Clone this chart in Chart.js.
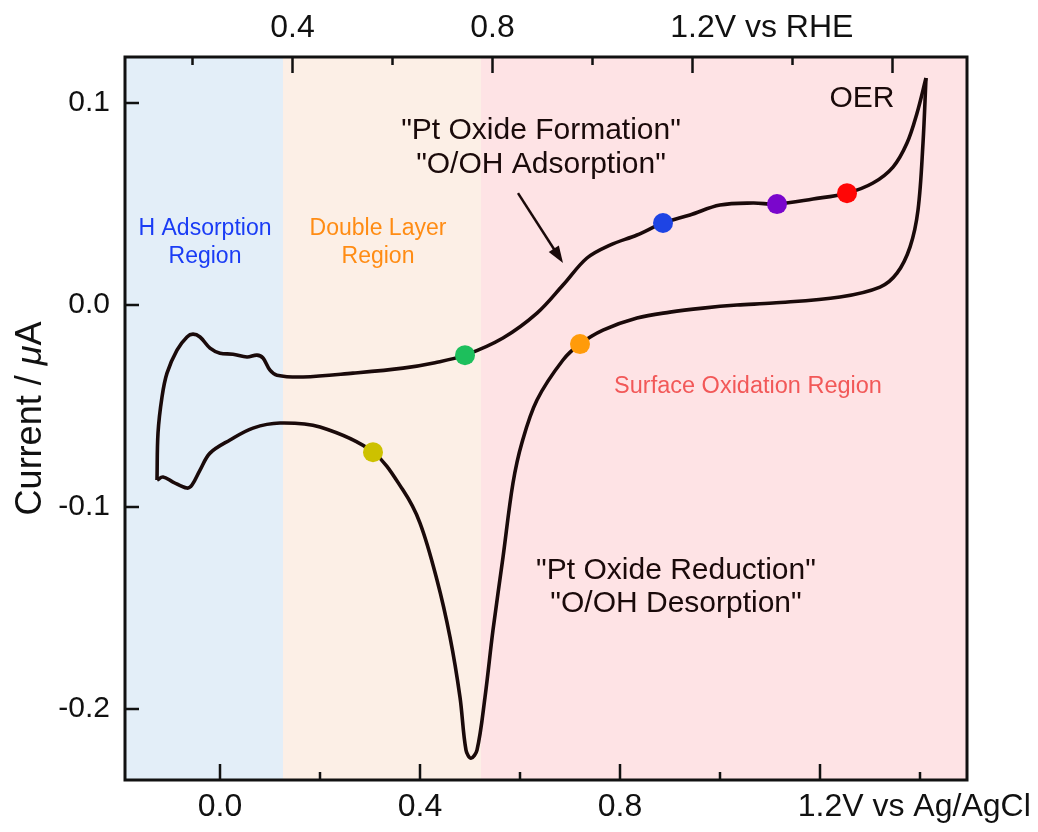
<!DOCTYPE html>
<html>
<head>
<meta charset="utf-8">
<script src="https://cdn.jsdelivr.net/npm/chart.js@4.4.0/dist/chart.umd.min.js"></script>
<style>
  html, body { margin: 0; padding: 0; background: #fff; }
  #wrap { width: 1038px; height: 832px; }
</style>
</head>
<body>
<div id="wrap"><canvas id="cv"></canvas></div>
<script>
// anodic sweep, potential in V vs Ag/AgCl, current in uA
const anodicV = [-0.126, -0.124, -0.116, -0.106, -0.086, -0.066, -0.054, -0.040, -0.020, 0.000,
  0.026, 0.054, 0.074, 0.086, 0.100, 0.114, 0.166, 0.266, 0.366, 0.430, 0.490, 0.566, 0.634,
  0.686, 0.734, 0.780, 0.834, 0.886, 0.940, 1.000, 1.066, 1.114, 1.186, 1.254, 1.306, 1.346,
  1.374, 1.394, 1.412];
const anodicI = [-0.0866, -0.0634, -0.0455, -0.0337, -0.0223, -0.0158, -0.0144, -0.0158, -0.0213, -0.0238,
  -0.0243, -0.0257, -0.0248, -0.0262, -0.0322, -0.0347, -0.0356, -0.0337, -0.0312, -0.0285, -0.0248, -0.0163, -0.0040,
  0.0099, 0.0233, 0.0297, 0.0347, 0.0406, 0.0446, 0.0495, 0.0505, 0.0500, 0.0525, 0.0554, 0.0604, 0.0683,
  0.0802, 0.0950, 0.1124];

// cathodic sweep, back from the OER tip
const cathodicV = [1.412, 1.406, 1.396, 1.380, 1.354, 1.320, 1.240, 1.106, 1.034, 0.966,
  0.900, 0.834, 0.766, 0.720, 0.686, 0.634, 0.604, 0.586, 0.566, 0.546, 0.530, 0.514, 0.502,
  0.492, 0.480, 0.460, 0.434, 0.400, 0.366, 0.306, 0.200, 0.120, 0.066, 0.020, -0.020,
  -0.040, -0.056, -0.066, -0.094, -0.114, -0.126];
const cathodicI = [0.1124, 0.0802, 0.0470, 0.0287, 0.0158, 0.0089, 0.0040, 0.0010, 0.0000, -0.0015,
  -0.0035, -0.0064, -0.0124, -0.0193, -0.0272, -0.0470, -0.0680, -0.0881, -0.1248, -0.1609, -0.1941, -0.2203, -0.2243,
  -0.2203, -0.1941, -0.1644, -0.1361, -0.1079, -0.0916, -0.0728, -0.0604, -0.0584, -0.0609, -0.0668, -0.0733,
  -0.0817, -0.0891, -0.0906, -0.0876, -0.0851, -0.0866];

// coloured markers on the loop
const markerV = [0.306, 0.490, 0.720, 0.886, 1.114, 1.254];
const markerI = [-0.0728, -0.0248, -0.0193, 0.0406, 0.0500, 0.0554];
const markerColors = ['#cdc100', '#1dbf5c', '#ff9b0a', '#1e44e4', '#7a06cc', '#ff0606'];

// region bands (V vs Ag/AgCl)
const regionEdges = [-0.19, 0.126, 0.522, 1.494];
const regionColors = ['#e3eef8', '#fcefe6', '#fee3e5'];

// axis ticks
const agclTicks = [0.0, 0.2, 0.4, 0.6, 0.8, 1.0, 1.2, 1.4];
const agclLabelValues = [0.0, 0.4, 0.8, 1.2];
const agclLabels = ['0.0', '0.4', '0.8', '1.2V vs Ag/AgCl'];
const rheOffset = 0.255;
const rheTicks = [0.2, 0.4, 0.6, 0.8, 1.0, 1.2, 1.4, 1.6];
const rheMajor = [0.4, 0.8, 1.2, 1.6];
const rheLabelValues = [0.4, 0.8, 1.2];
const rheLabels = ['0.4', '0.8', '1.2V vs RHE'];
const currentTicks = [-0.2, -0.1, 0.0, 0.1];
const currentLabels = ['-0.2', '-0.1', '0.0', '0.1'];

const xMin = -0.19, xMax = 1.494, yMin = -0.2351, yMax = 0.1228;

const FONT = "'Liberation Sans', Arial, Helvetica, sans-serif";
const INK = '#1a0a0a';

// text notes, placed in data units
const notes = [
  { lines: ['H Adsorption', 'Region'], x: -0.03, y: 0.0307, color: '#1a3cf5', size: 23, gap: 28 },
  { lines: ['Double Layer', 'Region'], x: 0.316, y: 0.0307, color: '#ff8c14', size: 23, gap: 28 },
  { lines: ['Surface Oxidation Region'], x: 1.056, y: -0.0401, color: '#f25858', size: 23.5, gap: 28 },
  { lines: ['OER'], x: 1.284, y: 0.102, color: INK, size: 30, gap: 34 },
  { lines: ['"Pt Oxide Formation"', '"O/OH Adsorption"'], x: 0.642, y: 0.0777, color: INK, size: 30, gap: 34 },
  { lines: ['"Pt Oxide Reduction"', '"O/OH Desorption"'], x: 0.912, y: -0.1399, color: INK, size: 30, gap: 33 }
];
const arrowFrom = [0.596, 0.0554];
const arrowTo = [0.686, 0.0208];

const pts = (xs, ys) => xs.map((v, i) => ({ x: v, y: ys[i] }));

const decor = {
  id: 'decor',
  beforeDatasetsDraw(chart) {
    const { ctx, chartArea: a, scales: { x } } = chart;
    ctx.save();
    for (let i = 0; i < regionColors.length; i++) {
      const x0 = x.getPixelForValue(regionEdges[i]);
      const x1 = x.getPixelForValue(regionEdges[i + 1]);
      ctx.fillStyle = regionColors[i];
      ctx.fillRect(x0, a.top, x1 - x0, a.bottom - a.top);
    }
    ctx.restore();
  },
  afterDatasetsDraw(chart) {
    const { ctx, chartArea: a, scales: { x, x2, y } } = chart;
    ctx.save();

    // notes
    ctx.textAlign = 'center';
    ctx.textBaseline = 'middle';
    notes.forEach(n => {
      ctx.font = n.size + 'px ' + FONT;
      ctx.fillStyle = n.color;
      const cx = x.getPixelForValue(n.x);
      const cy = y.getPixelForValue(n.y);
      const top = cy - (n.lines.length - 1) * n.gap / 2;
      n.lines.forEach((t, i) => ctx.fillText(t, cx, top + i * n.gap));
    });

    // arrow
    const ax0 = x.getPixelForValue(arrowFrom[0]), ay0 = y.getPixelForValue(arrowFrom[1]);
    const ax1 = x.getPixelForValue(arrowTo[0]), ay1 = y.getPixelForValue(arrowTo[1]);
    const ang = Math.atan2(ay1 - ay0, ax1 - ax0);
    ctx.strokeStyle = INK;
    ctx.fillStyle = INK;
    ctx.lineWidth = 2.5;
    ctx.beginPath();
    ctx.moveTo(ax0, ay0);
    ctx.lineTo(ax1 - 12 * Math.cos(ang), ay1 - 12 * Math.sin(ang));
    ctx.stroke();
    ctx.beginPath();
    ctx.moveTo(ax1, ay1);
    ctx.lineTo(ax1 - 17 * Math.cos(ang) + 6 * Math.sin(ang), ay1 - 17 * Math.sin(ang) - 6 * Math.cos(ang));
    ctx.lineTo(ax1 - 17 * Math.cos(ang) - 6 * Math.sin(ang), ay1 - 17 * Math.sin(ang) + 6 * Math.cos(ang));
    ctx.closePath();
    ctx.fill();

    // frame
    ctx.lineWidth = 3;
    ctx.strokeStyle = '#111';
    ctx.strokeRect(a.left, a.top, a.right - a.left, a.bottom - a.top);

    // inward ticks
    ctx.lineWidth = 2.5;
    ctx.beginPath();
    agclTicks.forEach(v => {
      const px = x.getPixelForValue(v);
      const len = agclLabelValues.includes(v) ? 16 : 8;
      ctx.moveTo(px, a.bottom);
      ctx.lineTo(px, a.bottom - len);
    });
    rheTicks.forEach(v => {
      const px = x2.getPixelForValue(v);
      const len = rheMajor.includes(v) ? 16 : 8;
      ctx.moveTo(px, a.top);
      ctx.lineTo(px, a.top + len);
    });
    currentTicks.forEach(v => {
      const py = y.getPixelForValue(v);
      ctx.moveTo(a.left, py);
      ctx.lineTo(a.left + 14, py);
    });
    ctx.stroke();

    // tick labels
    ctx.fillStyle = '#111';
    ctx.font = '32px ' + FONT;
    ctx.textBaseline = 'middle';
    const axisLabel = (txt, px, py) => {
      const head = txt.split('V')[0];
      const w = ctx.measureText(head).width;
      ctx.textAlign = 'left';
      ctx.fillText(txt, px - w / 2, py);
    };
    agclLabels.forEach((t, i) => axisLabel(t, x.getPixelForValue(agclLabelValues[i]), a.bottom + 27));
    rheLabels.forEach((t, i) => axisLabel(t, x2.getPixelForValue(rheLabelValues[i]), a.top - 29));

    ctx.font = '30px ' + FONT;
    ctx.textAlign = 'right';
    currentLabels.forEach((t, i) => ctx.fillText(t, a.left - 15, y.getPixelForValue(currentTicks[i])));

    // y title, with an italic mu
    ctx.translate(a.left - 94, (a.top + a.bottom) / 2);
    ctx.rotate(-Math.PI / 2);
    ctx.textAlign = 'left';
    const parts = [['Current / ', ''], ['μ', 'italic '], ['A', '']];
    let total = 0;
    parts.forEach(p => { ctx.font = p[1] + '36px ' + FONT; total += ctx.measureText(p[0]).width; });
    let cx = -total / 2;
    parts.forEach(p => {
      ctx.font = p[1] + '36px ' + FONT;
      ctx.fillText(p[0], cx, 0);
      cx += ctx.measureText(p[0]).width;
    });
    ctx.restore();
  }
};

const chart = new Chart(document.getElementById('cv'), {
  type: 'scatter',
  data: {
    datasets: [
      {
        label: 'markers',
        data: pts(markerV, markerI),
        pointBackgroundColor: markerColors,
        pointBorderWidth: 0,
        pointRadius: 10,
        showLine: false,
        order: 0
      },
      {
        label: 'anodic',
        data: pts(anodicV, anodicI),
        showLine: true,
        borderColor: INK,
        borderWidth: 3.6,
        pointRadius: 0,
        tension: 0.35,
        order: 1
      },
      {
        label: 'cathodic',
        data: pts(cathodicV, cathodicI),
        showLine: true,
        borderColor: INK,
        borderWidth: 3.6,
        pointRadius: 0,
        tension: 0.35,
        order: 1
      }
    ]
  },
  options: {
    responsive: true,
    maintainAspectRatio: false,
    animation: false,
    layout: { padding: { left: 125, right: 71, top: 57, bottom: 52 } },
    plugins: { legend: { display: false }, tooltip: { enabled: false } },
    scales: {
      x: { type: 'linear', min: xMin, max: xMax, display: false },
      x2: { type: 'linear', axis: 'x', position: 'top', min: xMin + rheOffset, max: xMax + rheOffset, display: false },
      y: { type: 'linear', min: yMin, max: yMax, display: false }
    }
  },
  plugins: [decor]
});
</script>
</body>
</html>
